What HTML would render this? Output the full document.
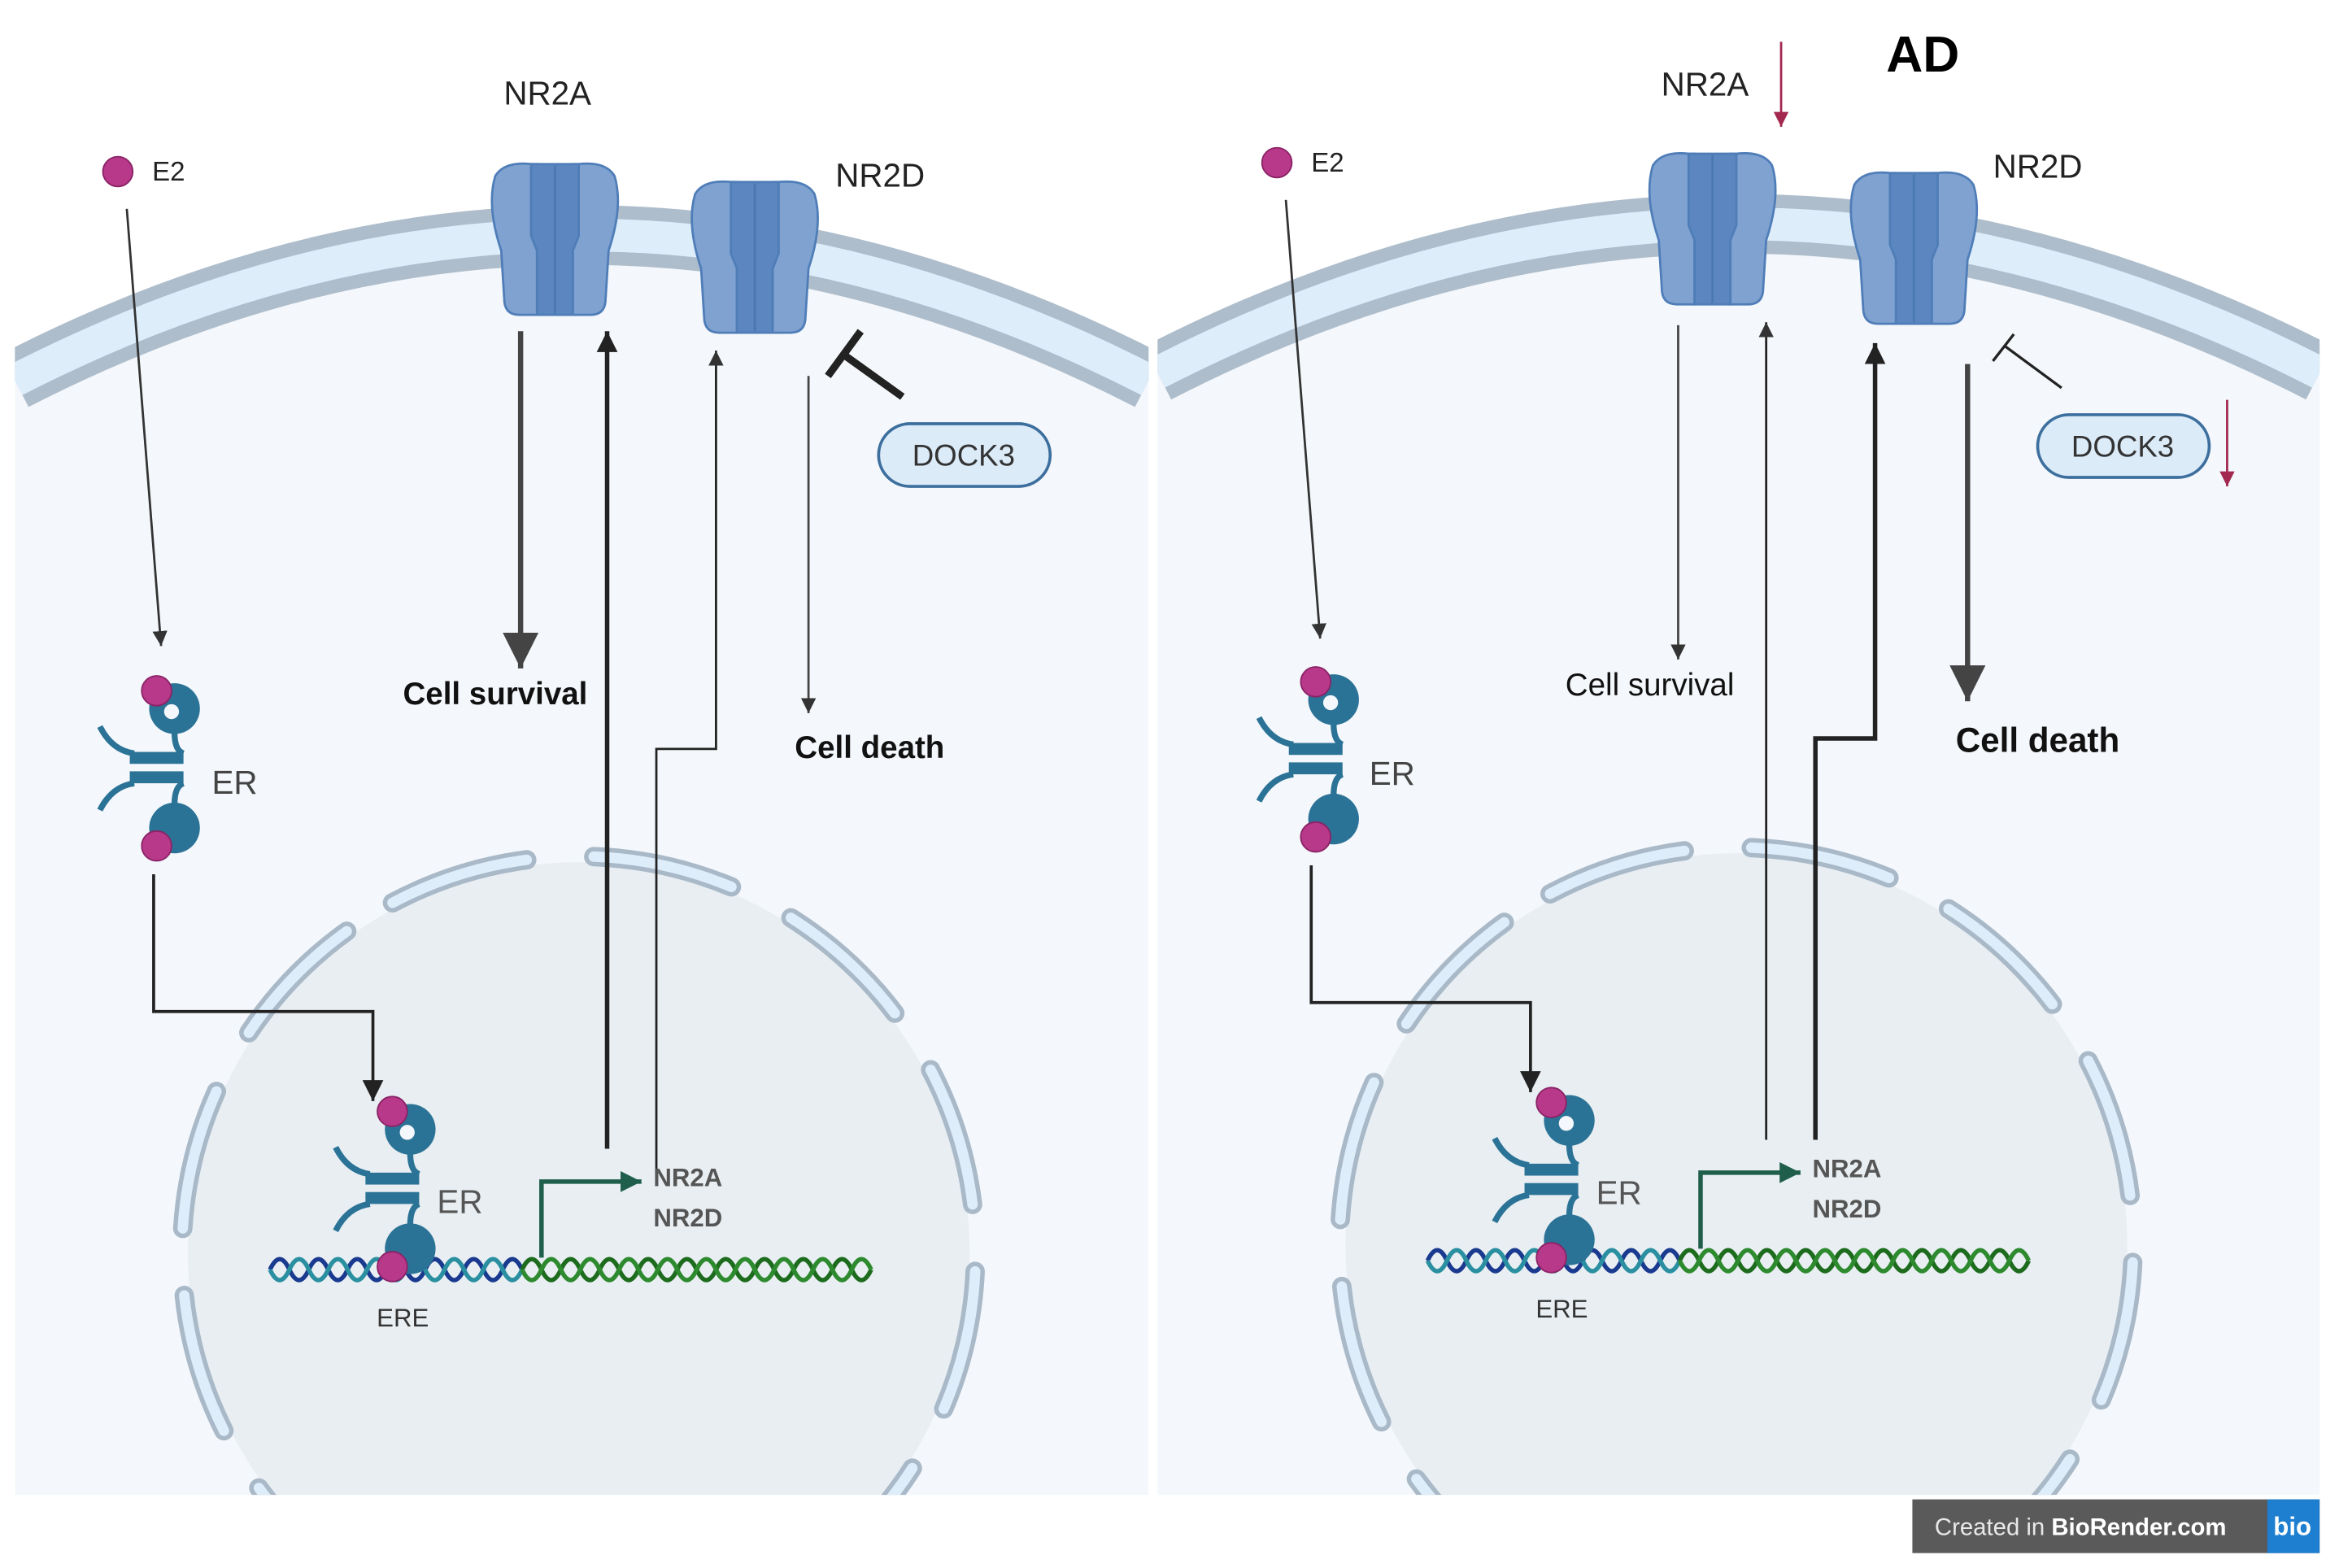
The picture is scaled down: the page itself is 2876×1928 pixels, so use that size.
<!DOCTYPE html>
<html><head><meta charset="utf-8"><style>
html,body{margin:0;padding:0;background:#fff;width:2876px;height:1928px;overflow:hidden;}
svg{display:block;}
text{font-family:"Liberation Sans",sans-serif;}
</style></head><body>
<svg width="2876" height="1928" viewBox="0 0 1568 1051" preserveAspectRatio="none" xmlns="http://www.w3.org/2000/svg">
<defs>
<marker id="sa" markerUnits="userSpaceOnUse" markerWidth="12" markerHeight="12" refX="10" refY="5" orient="auto"><path d="M0,0 L10,5 L0,10 z" fill="#333"/></marker>
<marker id="ma" markerUnits="userSpaceOnUse" markerWidth="16" markerHeight="16" refX="14" refY="7" orient="auto"><path d="M0,0 L14,7 L0,14 z" fill="#222"/></marker>
<marker id="ba" markerUnits="userSpaceOnUse" markerWidth="26" markerHeight="26" refX="24" refY="12" orient="auto"><path d="M0,0 L24,12 L0,24 z" fill="#444"/></marker>
<marker id="ga" markerUnits="userSpaceOnUse" markerWidth="16" markerHeight="16" refX="14" refY="7" orient="auto"><path d="M0,0 L14,7 L0,14 z" fill="#1f5e4a"/></marker>
<marker id="ra" markerUnits="userSpaceOnUse" markerWidth="12" markerHeight="12" refX="10" refY="5" orient="auto"><path d="M0,0 L10,5 L0,10 z" fill="#a3284f"/></marker>
<clipPath id="cl"><rect x="10" y="0" width="760" height="1002"/></clipPath>
<clipPath id="cr"><rect x="776" y="0" width="779" height="1002"/></clipPath>
<symbol id="rec" viewBox="0 0 92 105" width="92" height="105" overflow="visible">
<path d="M6,10 Q12,0 30,2 L34,2 L34,103 L22,103 Q12,103 12,92 L10,60 Q0,30 6,10z" fill="#7fa2d0" stroke="#4f7db8" stroke-width="1.5"/>
<path d="M86,10 Q80,0 62,2 L58,2 L58,103 L70,103 Q80,103 80,92 L82,60 Q92,30 86,10z" fill="#7fa2d0" stroke="#4f7db8" stroke-width="1.5"/>
<path d="M30,2 L62,2 L62,50 L58,60 L58,103 L34,103 L34,60 L30,50z" fill="#5b86bf" stroke="#4f7db8" stroke-width="1.5"/>
<line x1="46" y1="3" x2="46" y2="102" stroke="#4a78b2" stroke-width="1.5"/>
</symbol>
<symbol id="er" viewBox="-50 -65 100 130" width="100" height="130" overflow="visible">
<circle cx="12" cy="-40" r="17" fill="#2b7396"/><circle cx="10" cy="-38" r="5" fill="#f4f7fb"/>
<circle cx="12" cy="40" r="17" fill="#2b7396"/>
<path d="M-38,-28 Q-30,-12 -15,-10" fill="none" stroke="#2b7396" stroke-width="4"/>
<path d="M-38,28 Q-30,12 -15,10" fill="none" stroke="#2b7396" stroke-width="4"/>
<path d="M12,-24 Q12,-12 18,-10" fill="none" stroke="#2b7396" stroke-width="4"/>
<path d="M12,24 Q12,12 18,10" fill="none" stroke="#2b7396" stroke-width="4"/>
<rect x="-18" y="-11" width="36" height="8" fill="#2b7396"/>
<rect x="-18" y="2" width="36" height="8" fill="#2b7396"/>
<circle cx="0" cy="-52" r="10" fill="#b8388a" stroke="#8a2366" stroke-width="1"/>
<circle cx="0" cy="52" r="10" fill="#b8388a" stroke="#8a2366" stroke-width="1"/>
</symbol>
<symbol id="dna" viewBox="0 0 410 30" width="410" height="30" overflow="visible">
<path d="M0,15 q6.5,-14 13,0 t13,0 t13,0 t13,0 t13,0 t13,0 t13,0 t13,0 t13,0 t13,0 t13,0 t13,0 t13,0" fill="none" stroke="#1a3a8f" stroke-width="3"/>
<path d="M0,15 q6.5,14 13,0 t13,0 t13,0 t13,0 t13,0 t13,0 t13,0 t13,0 t13,0 t13,0 t13,0 t13,0 t13,0" fill="none" stroke="#2a8fa0" stroke-width="3"/>
<path d="M169,15 q6.5,-14 13,0 t13,0 t13,0 t13,0 t13,0 t13,0 t13,0 t13,0 t13,0 t13,0 t13,0 t13,0 t13,0 t13,0 t13,0 t13,0 t13,0 t13,0" fill="none" stroke="#1d6b1d" stroke-width="3"/>
<path d="M169,15 q6.5,14 13,0 t13,0 t13,0 t13,0 t13,0 t13,0 t13,0 t13,0 t13,0 t13,0 t13,0 t13,0 t13,0 t13,0 t13,0 t13,0 t13,0 t13,0" fill="none" stroke="#2e8a2e" stroke-width="3"/>
</symbol>
</defs>
<rect width="1568" height="1051" fill="#fff"/>

<!-- LEFT PANEL -->
<g clip-path="url(#cl)">
<path d="M10,255 Q390,60 770,255 L770,1002 L10,1002z" fill="#f4f7fb"/>
<path d="M10,255 Q390,60 770,255" fill="none" stroke="#aebdcb" stroke-width="40"/>
<path d="M10,255 Q390,60 770,255" fill="none" stroke="#deedfa" stroke-width="22"/>
<circle cx="388" cy="840" r="262" fill="#e8eef2"/>
<circle cx="388" cy="840" r="266" fill="none" stroke="#a9b9c8" stroke-width="13" stroke-dasharray="95 45" stroke-linecap="round" transform="rotate(-118 388 840)"/>
<circle cx="388" cy="840" r="266" fill="none" stroke="#deedfa" stroke-width="7" stroke-dasharray="95 45" stroke-linecap="round" transform="rotate(-118 388 840)"/>
</g>
<use href="#rec" x="326" y="108"/>
<use href="#rec" x="460" y="120"/>
<text x="367" y="70" font-size="22" text-anchor="middle" fill="#222">NR2A</text>
<text x="590" y="125" font-size="22" text-anchor="middle" fill="#222">NR2D</text>
<circle cx="79" cy="115" r="10" fill="#b8388a" stroke="#8a2366"/>
<text x="102" y="121" font-size="18" fill="#222">E2</text>
<line x1="85" y1="140" x2="108" y2="433" stroke="#333" stroke-width="1.5" marker-end="url(#sa)"/>
<use href="#er" x="55" y="450"/>
<text x="142" y="532" font-size="22" fill="#444">ER</text>
<path d="M103,586 L103,678 L250,678 L250,738" fill="none" stroke="#222" stroke-width="2" marker-end="url(#ma)"/>
<line x1="349" y1="222" x2="349" y2="448" stroke="#444" stroke-width="3.5" marker-end="url(#ba)"/>
<text x="332" y="472" font-size="21" font-weight="bold" text-anchor="middle" fill="#111">Cell survival</text>
<line x1="407" y1="770" x2="407" y2="222" stroke="#222" stroke-width="3" marker-end="url(#ma)"/>
<path d="M440,790 L440,502 L480,502 L480,235" fill="none" stroke="#222" stroke-width="1.5" marker-end="url(#sa)"/>
<line x1="542" y1="252" x2="542" y2="478" stroke="#444" stroke-width="1.5" marker-end="url(#sa)"/>
<text x="583" y="508" font-size="21" font-weight="bold" text-anchor="middle" fill="#111">Cell death</text>
<line x1="605" y1="266" x2="566" y2="238" stroke="#222" stroke-width="5"/>
<line x1="555" y1="252" x2="577" y2="222" stroke="#222" stroke-width="5"/>
<rect x="589" y="284" width="115" height="42" rx="21" fill="#dcebf8" stroke="#3d6f9e" stroke-width="2"/>
<text x="646" y="312" font-size="20" text-anchor="middle" fill="#333">DOCK3</text>
<use href="#dna" x="181" y="836"/>
<use href="#er" x="213" y="732"/>
<text x="293" y="813" font-size="22" fill="#555">ER</text>
<text x="270" y="889" font-size="17" text-anchor="middle" fill="#333">ERE</text>
<path d="M363,843 L363,792 L430,792" fill="none" stroke="#1f5e4a" stroke-width="3" marker-end="url(#ga)"/>
<text x="438" y="795" font-size="17" font-weight="bold" fill="#555">NR2A</text>
<text x="438" y="822" font-size="17" font-weight="bold" fill="#555">NR2D</text>

<!-- RIGHT PANEL -->
<g clip-path="url(#cr)">
<path d="M776,250 Q1165,50 1555,250 L1555,1002 L776,1002z" fill="#f4f7fb"/>
<path d="M776,250 Q1165,50 1555,250" fill="none" stroke="#aebdcb" stroke-width="40"/>
<path d="M776,250 Q1165,50 1555,250" fill="none" stroke="#deedfa" stroke-width="22"/>
<circle cx="1164" cy="834" r="262" fill="#e8eef2"/>
<circle cx="1164" cy="834" r="266" fill="none" stroke="#a9b9c8" stroke-width="13" stroke-dasharray="95 45" stroke-linecap="round" transform="rotate(-118 1164 834)"/>
<circle cx="1164" cy="834" r="266" fill="none" stroke="#deedfa" stroke-width="7" stroke-dasharray="95 45" stroke-linecap="round" transform="rotate(-118 1164 834)"/>
</g>
<use href="#rec" x="1102" y="101"/>
<use href="#rec" x="1237" y="114"/>
<text x="1143" y="64" font-size="22" text-anchor="middle" fill="#222">NR2A</text>
<text x="1366" y="119" font-size="22" text-anchor="middle" fill="#222">NR2D</text>
<text x="1289" y="48" font-size="34" font-weight="bold" text-anchor="middle" fill="#000">AD</text>
<line x1="1194" y1="28" x2="1194" y2="85" stroke="#a3284f" stroke-width="1.5" marker-end="url(#ra)"/>
<line x1="1493" y1="268" x2="1493" y2="326" stroke="#a3284f" stroke-width="1.5" marker-end="url(#ra)"/>
<circle cx="856" cy="109" r="10" fill="#b8388a" stroke="#8a2366"/>
<text x="879" y="115" font-size="18" fill="#222">E2</text>
<line x1="862" y1="134" x2="885" y2="428" stroke="#333" stroke-width="1.5" marker-end="url(#sa)"/>
<use href="#er" x="832" y="444"/>
<text x="918" y="526" font-size="22" fill="#444">ER</text>
<path d="M879,580 L879,672 L1026,672 L1026,732" fill="none" stroke="#222" stroke-width="2" marker-end="url(#ma)"/>
<line x1="1125" y1="218" x2="1125" y2="442" stroke="#444" stroke-width="1.5" marker-end="url(#sa)"/>
<text x="1106" y="466" font-size="21" text-anchor="middle" fill="#111">Cell survival</text>
<line x1="1184" y1="764" x2="1184" y2="216" stroke="#222" stroke-width="1.5" marker-end="url(#sa)"/>
<path d="M1217,764 L1217,495 L1257,495 L1257,230" fill="none" stroke="#222" stroke-width="3" marker-end="url(#ma)"/>
<line x1="1319" y1="244" x2="1319" y2="470" stroke="#444" stroke-width="3.5" marker-end="url(#ba)"/>
<text x="1366" y="504" font-size="23" font-weight="bold" text-anchor="middle" fill="#111">Cell death</text>
<line x1="1382" y1="260" x2="1344" y2="232" stroke="#222" stroke-width="1.8"/>
<line x1="1336" y1="242" x2="1350" y2="224" stroke="#222" stroke-width="1.8"/>
<rect x="1366" y="278" width="115" height="42" rx="21" fill="#dcebf8" stroke="#3d6f9e" stroke-width="2"/>
<text x="1423" y="306" font-size="20" text-anchor="middle" fill="#333">DOCK3</text>
<use href="#dna" x="957" y="830"/>
<use href="#er" x="990" y="726"/>
<text x="1070" y="807" font-size="22" fill="#555">ER</text>
<text x="1047" y="883" font-size="17" text-anchor="middle" fill="#333">ERE</text>
<path d="M1140,837 L1140,786 L1207,786" fill="none" stroke="#1f5e4a" stroke-width="3" marker-end="url(#ga)"/>
<text x="1215" y="789" font-size="17" font-weight="bold" fill="#555">NR2A</text>
<text x="1215" y="816" font-size="17" font-weight="bold" fill="#555">NR2D</text>

<!-- badge -->
<rect x="1282" y="1005" width="273" height="36" fill="#5a5a5a"/>
<rect x="1520" y="1005" width="35" height="36" fill="#1e7fd0"/>
<text x="1297" y="1029" font-size="16" fill="#e8e8e8">Created in <tspan font-weight="bold" fill="#fff">BioRender.com</tspan></text>
<text x="1524" y="1029" font-size="17" font-weight="bold" fill="#fff">bio</text>
</svg>
</body></html>
